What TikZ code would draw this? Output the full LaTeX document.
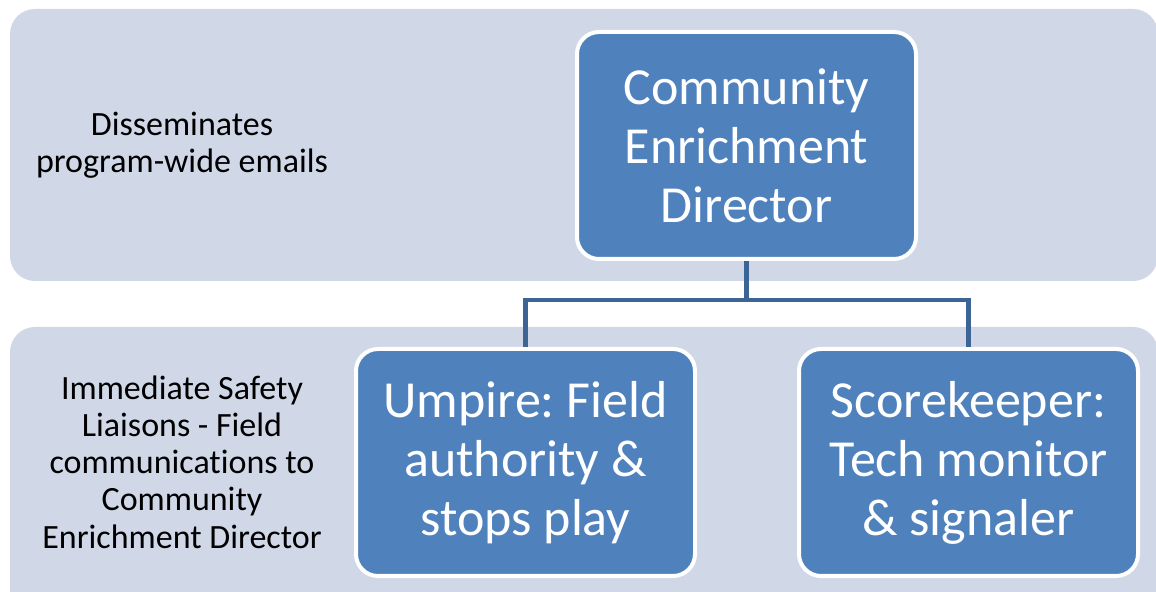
\documentclass[tikz,border=0pt]{standalone}
\usepackage{fontspec}
\setmainfont{Carlito}[Ligatures={NoCommon}]
\frenchspacing
\usetikzlibrary{positioning}
\definecolor{bandfill}{HTML}{D0D8E8}
\definecolor{boxfill}{HTML}{4F81BD}
\definecolor{linkcol}{HTML}{3C6494}
\tikzset{
    band/.style = {fill=bandfill, rounded corners=12.5pt},
    role/.style = {rectangle, rounded corners=11pt, draw=white, line width=2pt, fill=boxfill,
                   text=white, align=center, minimum width=169.5pt, minimum height=113.5pt,
                   inner sep=2pt, font=\fontsize{26}{29.5}\selectfont},
    note/.style = {align=center, text=black, inner sep=0pt, font=\fontsize{17}{18.6}\selectfont},
    link/.style = {draw=linkcol, line width=2.2pt}
}

\begin{document}
\begin{tikzpicture}[x=0.5pt, y=-0.5pt]
  \useasboundingbox (0,0) rectangle (1156,592);
  \clip (0,0) rectangle (1156,592);

  % background bands
  \fill[band] (10,9) rectangle (1158,281);
  \fill[band] (10,327) rectangle (1158,620);

  \node[note] (top) at (182,145) {Disseminates\\program-wide emails};
  \node[note] (bottom) at (182,462) {Immediate Safety\\Liaisons - Field\\communications to\\Community\\Enrichment Director};

  % connector first, boxes on top
  \coordinate (bus) at (746.5,300);
  \node[role] (dir)   at (746.5,145.5) {Community\\Enrichment\\Director};
  \node[role] (ump)   at (525.5,462.5) {Umpire: Field\\authority \&\\stops play};
  \node[role] (score) at (968.5,462.5) {Scorekeeper:\\Tech monitor\\\& signaler};

  \draw[link] (dir.south) -- (bus) -| (ump.north);
  \draw[link] (bus) -| (score.north);

\end{tikzpicture}
\end{document}
